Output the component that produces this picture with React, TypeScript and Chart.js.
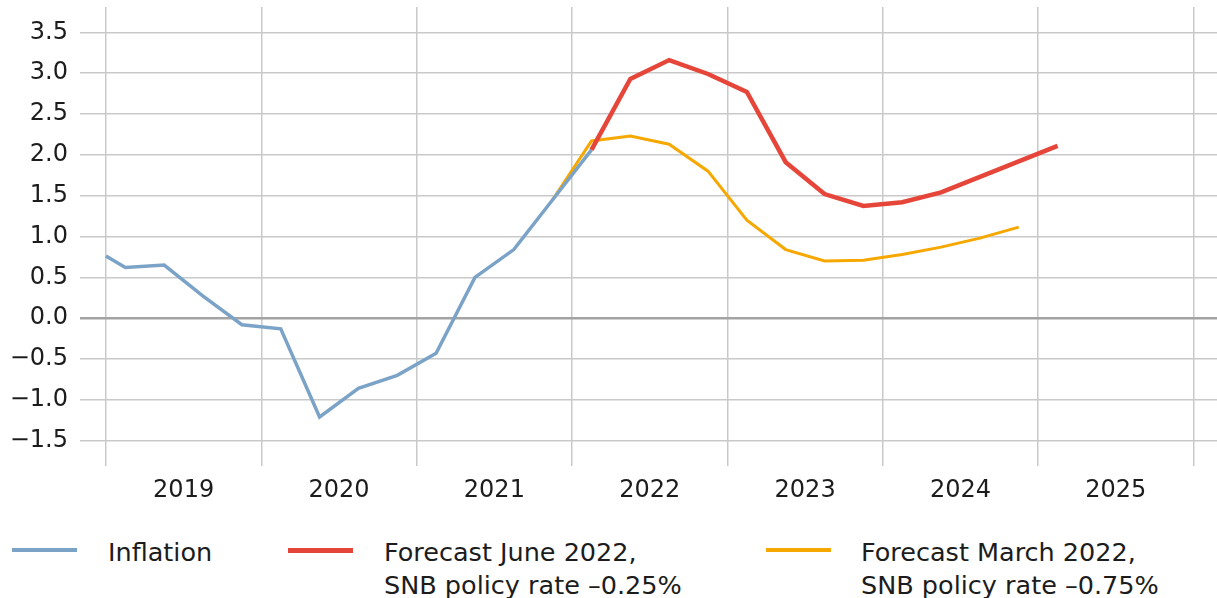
import React, { useEffect, useRef } from "react";
import { Chart, registerables } from "chart.js";

Chart.register(...registerables);

// ---- Data ----
const yearLabels = ["2019", "2020", "2021", "2022", "2023", "2024", "2025"];
const yTickValues = [-1.5, -1.0, -0.5, 0.0, 0.5, 1.0, 1.5, 2.0, 2.5, 3.0, 3.5];

// time in decimal years (quarter midpoints)
const inflationT = [2019.0, 2019.125, 2019.375, 2019.625, 2019.875, 2020.125, 2020.375, 2020.625, 2020.875, 2021.125, 2021.375, 2021.625, 2021.875, 2022.125];
const inflationV = [0.76, 0.62, 0.65, 0.27, -0.08, -0.13, -1.21, -0.86, -0.7, -0.43, 0.5, 0.84, 1.45, 2.06];

const juneT = [2022.125, 2022.375, 2022.625, 2022.875, 2023.125, 2023.375, 2023.625, 2023.875, 2024.125, 2024.375, 2024.625, 2024.875, 2025.125];
const juneV = [2.06, 2.93, 3.16, 2.99, 2.77, 1.91, 1.52, 1.375, 1.42, 1.54, 1.73, 1.92, 2.11];

const marchT = [2021.875, 2022.125, 2022.375, 2022.625, 2022.875, 2023.125, 2023.375, 2023.625, 2023.875, 2024.125, 2024.375, 2024.625, 2024.875];
const marchV = [1.45, 2.17, 2.23, 2.13, 1.8, 1.2, 0.84, 0.7, 0.71, 0.78, 0.87, 0.98, 1.115];

const seriesNames = ["Inflation", "Forecast June 2022,\nSNB policy rate –0.25%", "Forecast March 2022,\nSNB policy rate –0.75%"];

// ---- Styles ----
const BLUE = "#7ba3c8";
const RED = "#e6463a";
const ORANGE = "#f6a800";
const GRID = "#c9c9c9";
const ZERO = "#a3a3a3";
const TEXT = "#1c1c1c";
const FONT = "'DejaVu Sans', sans-serif";

const X_MIN = 2018.833;
const X_MAX = 2026.151;
const Y_MIN = -1.81;
const Y_MAX = 3.81;

const pts = (t: number[], v: number[]) => t.map((x, i) => ({ x, y: v[i] }));

const xTickValues: number[] = [];
yearLabels.forEach((y) => {
  const n = Number(y);
  xTickValues.push(n, n + 0.5);
});
xTickValues.push(Number(yearLabels[yearLabels.length - 1]) + 1);

export default function App() {
  const ref = useRef<HTMLCanvasElement>(null);

  useEffect(() => {
    if (!ref.current) return;
    const chart = new Chart(ref.current, {
      type: "line",
      data: {
        datasets: [
          {
            label: seriesNames[1],
            data: pts(juneT, juneV),
            borderColor: RED,
            backgroundColor: RED,
            borderWidth: 4.5,
            pointRadius: 0,
            tension: 0,
            order: 0,
          },
          {
            label: seriesNames[0],
            data: pts(inflationT, inflationV),
            borderColor: BLUE,
            backgroundColor: BLUE,
            borderWidth: 3.5,
            pointRadius: 0,
            tension: 0,
            order: 1,
          },
          {
            label: seriesNames[2],
            data: pts(marchT, marchV),
            borderColor: ORANGE,
            backgroundColor: ORANGE,
            borderWidth: 3,
            pointRadius: 0,
            tension: 0,
            order: 2,
          },
        ],
      },
      options: {
        animation: false,
        responsive: true,
        maintainAspectRatio: false,
        layout: { padding: { top: 7, left: 0, right: 0, bottom: 0 } },
        plugins: { legend: { display: false }, tooltip: { enabled: false } },
        scales: {
          x: {
            type: "linear",
            min: X_MIN,
            max: X_MAX,
            afterBuildTicks: (s: any) => {
              s.ticks = xTickValues.map((value) => ({ value }));
            },
            afterFit: (s: any) => {
              s.height = 54;
              s.paddingLeft = 0;
              s.paddingRight = 0;
            },
            border: { display: false },
            grid: {
              drawTicks: false,
              lineWidth: 1.5,
              color: (c: any) =>
                c.tick && Number.isInteger(c.tick.value) ? GRID : "rgba(0,0,0,0)",
            },
            ticks: {
              autoSkip: false,
              maxRotation: 0,
              minRotation: 0,
              padding: 10,
              color: TEXT,
              font: { family: FONT, size: 24 },
              callback: (v: any) => {
                const n = Number(v);
                if (Number.isInteger(n)) return "";
                return yearLabels[Math.floor(n) - Number(yearLabels[0])] ?? "";
              },
            },
          },
          y: {
            type: "linear",
            min: Y_MIN,
            max: Y_MAX,
            afterBuildTicks: (s: any) => {
              s.ticks = yTickValues.map((value) => ({ value }));
            },
            afterFit: (s: any) => {
              s.width = 80;
              s.paddingTop = 0;
              s.paddingBottom = 0;
            },
            border: { display: false },
            grid: {
              drawTicks: false,
              color: (c: any) => (c.tick && c.tick.value === 0 ? ZERO : GRID),
              lineWidth: (c: any) => (c.tick && c.tick.value === 0 ? 2.5 : 1.5),
            },
            ticks: {
              padding: 12,
              color: TEXT,
              font: { family: FONT, size: 24 },
              callback: (v: any) => Number(v).toFixed(1).replace("-", "−"),
            },
          },
        },
      },
    });
    return () => chart.destroy();
  }, []);

  const legendText: React.CSSProperties = {
    position: "absolute",
    top: 536,
    fontFamily: FONT,
    fontSize: 25.5,
    lineHeight: "33px",
    color: TEXT,
    whiteSpace: "pre",
  };
  const swatch = (left: number, color: string, h: number): React.CSSProperties => ({
    position: "absolute",
    left,
    top: 550 - h / 2,
    width: 65,
    height: h,
    background: color,
  });

  return (
    <div
      style={{
        position: "absolute",
        left: 0,
        top: 0,
        width: 1217,
        height: 598,
        background: "#fff",
        overflow: "hidden",
      }}
    >
      <div style={{ position: "absolute", left: 0, top: 0, width: 1217, height: 520 }}>
        <canvas ref={ref} />
      </div>
      <div style={swatch(12, BLUE, 4)} />
      <div style={{ ...legendText, left: 108 }}>{seriesNames[0]}</div>
      <div style={swatch(288, RED, 5)} />
      <div style={{ ...legendText, left: 384 }}>{seriesNames[1]}</div>
      <div style={swatch(766, ORANGE, 4)} />
      <div style={{ ...legendText, left: 861 }}>{seriesNames[2]}</div>
    </div>
  );
}
